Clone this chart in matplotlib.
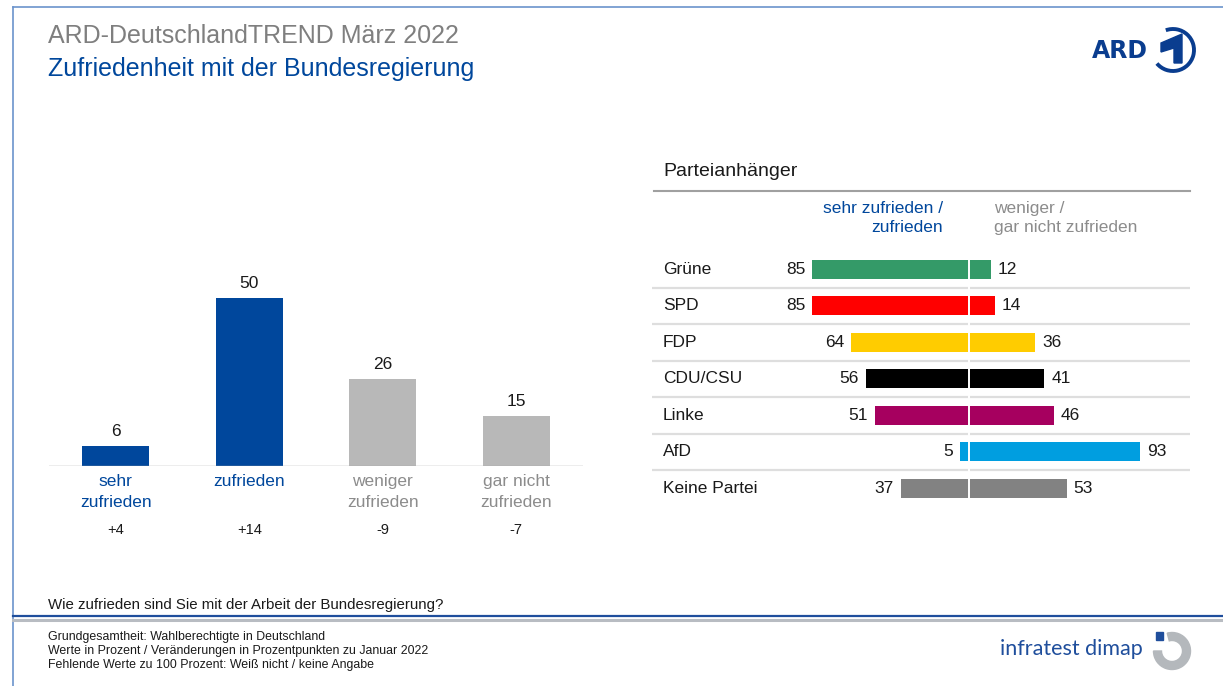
import matplotlib
matplotlib.use('Agg')
import matplotlib.pyplot as plt
from matplotlib.patches import Arc, Wedge, Polygon, Rectangle
from matplotlib.transforms import blended_transform_factory

plt.rcParams['font.family'] = ['Liberation Sans', 'DejaVu Sans']

# --- data ---
categories = ['sehr\nzufrieden', 'zufrieden', 'weniger\nzufrieden', 'gar nicht\nzufrieden']
values = [6, 50, 26, 15]
changes = ['+4', '+14', '-9', '-7']

parties = ['Grüne', 'SPD', 'FDP', 'CDU/CSU', 'Linke', 'AfD', 'Keine Partei']
satisfied = [85, 85, 64, 56, 51, 5, 37]
dissatisfied = [12, 14, 36, 41, 46, 93, 53]
party_colors = ['#349a68', '#ff0000', '#ffcc00', '#000000', '#a6005f', '#009ee0', '#828282']

BLUE = '#00479c'
GREY_BAR = '#b8b8b8'
GREY_TXT = '#8c8c8c'

W, H = 1223, 686
fig = plt.figure(figsize=(W / 100, H / 100), dpi=100)

# decoration layer in pixel coords
deco = fig.add_axes([0, 0, 1, 1])
deco.set_xlim(0, W)
deco.set_ylim(H, 0)
deco.axis('off')

deco.plot([13, 13], [7, H], color='#6b93cc', lw=1.2)
deco.plot([13, W], [7, 7], color='#6b93cc', lw=1.2)
deco.plot([13, W], [616, 616], color='#1f4e9c', lw=1.6)
deco.plot([13, W], [620, 620], color='#b8bcc2', lw=2.2)

deco.text(48, 36, 'ARD-DeutschlandTREND März 2022', fontsize=18, color='#7f7f7f', va='center')
deco.text(48, 69, 'Zufriedenheit mit der Bundesregierung', fontsize=18, color=BLUE, va='center')

# ARD logo
deco.text(1092, 51, 'ARD', fontsize=17, fontweight='bold', color='#0a3d8f', va='center',
          family='DejaVu Sans')
deco.add_patch(Arc((1173, 50), 42, 42, theta1=-110, theta2=140, color='#0a3d8f', lw=2.8))
deco.add_patch(Polygon([(1161, 43), (1182, 34), (1182, 63), (1174, 63), (1174, 48), (1161, 52)],
                       closed=True, color='#0a3d8f'))

deco.text(663, 172, 'Parteianhänger', fontsize=14, color='#1a1a1a', va='center')
deco.plot([654, 1190], [191, 191], color='#a0a0a0', lw=1.5)
deco.text(943, 218, 'sehr zufrieden /\nzufrieden', fontsize=12.5, color=BLUE, va='center',
          ha='right', multialignment='right', linespacing=1.3)
deco.text(994, 218, 'weniger /\ngar nicht zufrieden', fontsize=12.5, color=GREY_TXT, va='center',
          ha='left', linespacing=1.3)

deco.text(48, 605, 'Wie zufrieden sind Sie mit der Arbeit der Bundesregierung?', fontsize=10.8,
          color='#1a1a1a', va='center')
footer = ['Grundgesamtheit: Wahlberechtigte in Deutschland',
          'Werte in Prozent / Veränderungen in Prozentpunkten zu Januar 2022',
          'Fehlende Werte zu 100 Prozent: Weiß nicht / keine Angabe']
for k, line in enumerate(footer):
    deco.text(48, 637 + 14 * k, line, fontsize=8.95, color='#1a1a1a', va='center')

# infratest dimap logo
deco.text(1000, 649, 'infratest dimap', fontsize=15.5, color='#1f4e9c', va='center',
          family=['Lato', 'DejaVu Sans'])
deco.add_patch(Rectangle((1156, 632), 7, 8, color='#1f4e9c'))
deco.add_patch(Wedge((1172, 651), 18.5, -105, 180, width=8, color='#b4b8bc'))

# --- left chart ---
px_per_unit = 3.36
ax = fig.add_axes([49 / W, (H - 466) / H, 534 / W, 60 * px_per_unit / H])
x = range(len(values))
bar_colors = [BLUE, BLUE, GREY_BAR, GREY_BAR]
ax.bar(x, values, width=0.5, color=bar_colors)
ax.set_xlim(-0.5, 3.5)
ax.set_ylim(0, 60)
for i, v in enumerate(values):
    ax.annotate(str(v), xy=(i, v), xytext=(0, 5), textcoords='offset points',
                ha='center', va='bottom', fontsize=12.5, color='#1a1a1a')
    ax.annotate(changes[i], xy=(i, 0), xytext=(0, -46), textcoords='offset points',
                ha='center', va='center', fontsize=10.5, color='#1a1a1a')
ax.axhline(0, color='#a6a6a6', lw=1)
ax.set_xticks(list(x))
ax.set_xticklabels(categories, fontsize=12.5, linespacing=1.45)
for lbl, c in zip(ax.get_xticklabels(), [BLUE, BLUE, GREY_TXT, GREY_TXT]):
    lbl.set_color(c)
ax.tick_params(axis='x', length=0, pad=6)
ax.set_yticks([])
for s in ax.spines.values():
    s.set_visible(False)
ax.patch.set_alpha(0)

# --- right chart ---
row_px = 36.5
ax2 = fig.add_axes([652 / W, (H - 506.5) / H, 538 / W, 7 * row_px / H])
ax2.set_xlim(-172, 120)
ax2.set_ylim(6.5, -0.5)
rows = range(len(parties))
ax2.barh(rows, [-v for v in satisfied], height=0.52, color=party_colors)
ax2.barh(rows, dissatisfied, height=0.52, color=party_colors)
for i in range(len(parties) - 1):
    ax2.axhline(i + 0.5, color='#dedede', lw=1.6)
ax2.axvline(0, color='white', lw=1.4, zorder=5)
trans = blended_transform_factory(ax2.transAxes, ax2.transData)
for i, p in enumerate(parties):
    ax2.text(11 / 538, i, p, transform=trans, fontsize=12.5, va='center', color='#1a1a1a')
    ax2.annotate(str(satisfied[i]), xy=(-satisfied[i], i), xytext=(-5, 0),
                 textcoords='offset points', ha='right', va='center', fontsize=12.5,
                 color='#1a1a1a')
    ax2.annotate(str(dissatisfied[i]), xy=(dissatisfied[i], i), xytext=(5, 0),
                 textcoords='offset points', ha='left', va='center', fontsize=12.5,
                 color='#1a1a1a')
ax2.axis('off')

fig.savefig('out.png', dpi=100)
